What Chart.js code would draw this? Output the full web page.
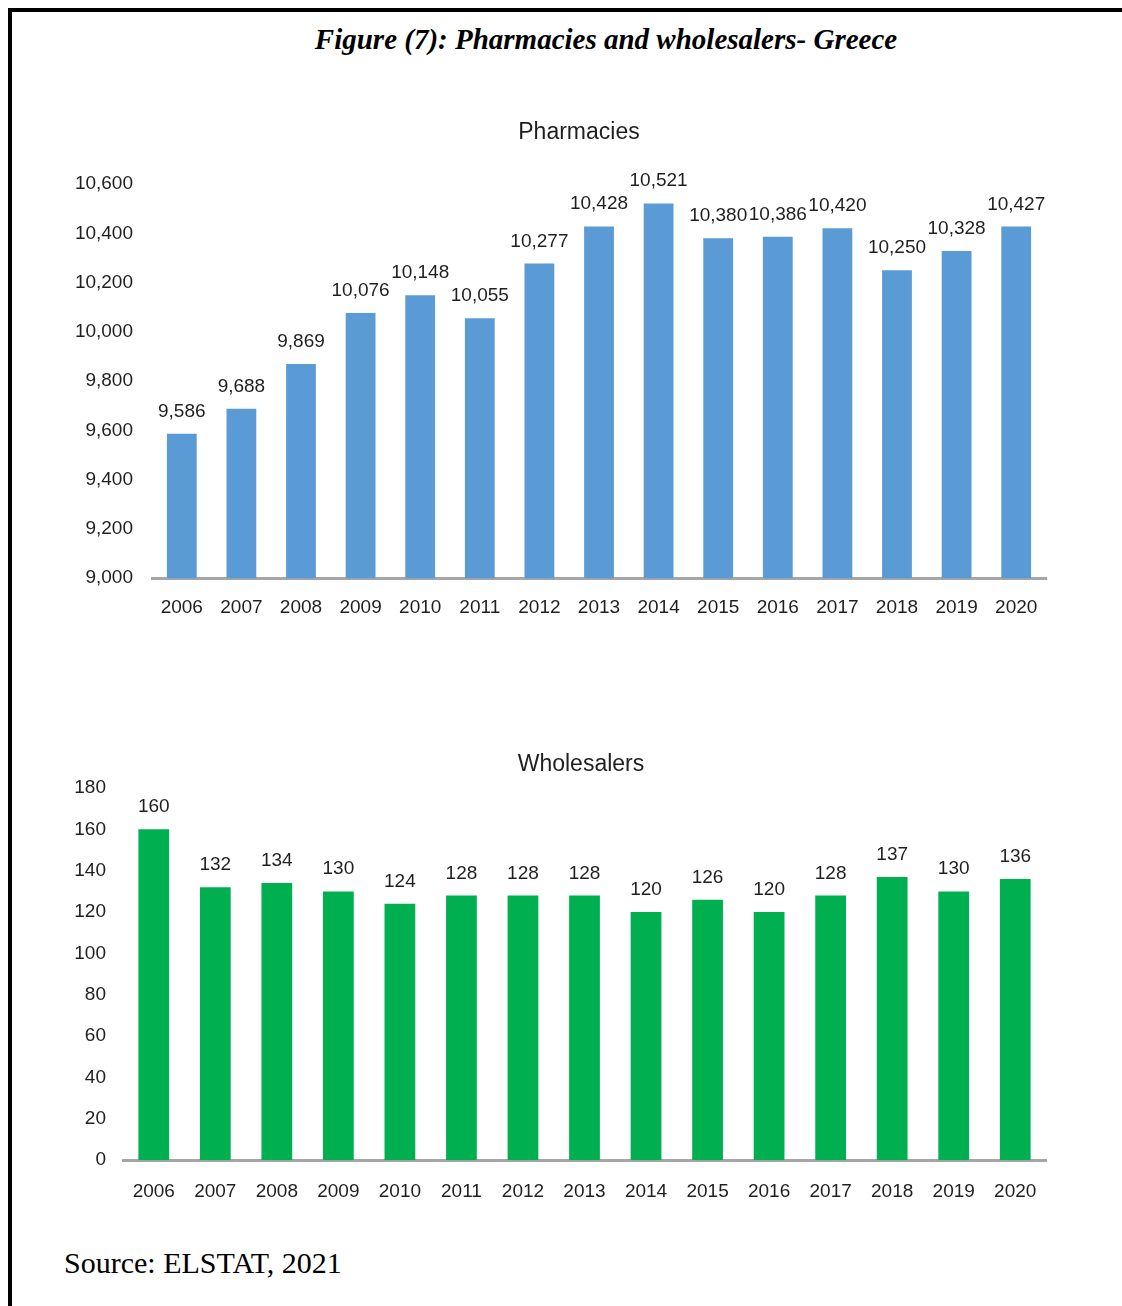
<!DOCTYPE html>
<html>
<head>
<meta charset="utf-8">
<script src="https://cdn.jsdelivr.net/npm/chart.js@4.4.1/dist/chart.umd.min.js"></script>
<style>
  html, body { margin: 0; padding: 0; background: #fff; }
  body { width: 1122px; height: 1306px; position: relative; overflow: hidden; }
  .frame-top { position: absolute; left: 8px; top: 8px; width: 1114px; height: 4px; background: #000; }
  .frame-left { position: absolute; left: 8px; top: 8px; width: 4px; height: 1298px; background: #000; }
  .fig-title { position: absolute; left: 0; top: 23px; width: 1212px; text-align: center;
    font-family: "Liberation Serif", "Times New Roman", serif; font-weight: bold; font-style: italic; font-size: 29px; color: #000; }
  .source { position: absolute; left: 64px; top: 1246px;
    font-family: "Liberation Serif", "Times New Roman", serif; font-size: 30px; color: #000; }
  .chart-title { position: absolute; width: 400px; text-align: center; line-height: 26px;
    font-family: "Liberation Sans", Arial, Helvetica, sans-serif; font-size: 23px; color: #1f1f1f; }
  #PharmChart { position: absolute; left: 0; top: 110px; }
  #WholeChart { position: absolute; left: 0; top: 740px; }
</style>
</head>
<body>
<div class="frame-top"></div>
<div class="frame-left"></div>
<div class="fig-title">Figure (7): Pharmacies and wholesalers- Greece</div>
<canvas id="PharmChart" width="1122" height="540"></canvas>
<canvas id="WholeChart" width="1122" height="502"></canvas>
<div class="chart-title" style="left:379px; top:118px;">Pharmacies</div>
<div class="chart-title" style="left:381px; top:750px;">Wholesalers</div>
<div class="source">Source: ELSTAT, 2021</div>

<script>
// 연도 (두 차트 공통)
const years = ['2006', '2007', '2008', '2009', '2010', '2011', '2012', '2013', '2014', '2015', '2016', '2017', '2018', '2019', '2020'];
// 약국 수
const pharmacies = [9586, 9688, 9869, 10076, 10148, 10055, 10277, 10428, 10521, 10380, 10386, 10420, 10250, 10328, 10427];
// 도매상 수
const wholesalers = [160, 132, 134, 130, 124, 128, 128, 128, 120, 126, 120, 128, 137, 130, 136];

const FONT = '"Liberation Sans", Arial, Helvetica, sans-serif';
const TEXT = '#1f1f1f';

// 막대 위에 숫자 찍는 플러그인
const valueLabels = {
    id: 'valueLabels',
    afterDatasetsDraw: (chart) => {
        const { ctx } = chart;
        const meta = chart.getDatasetMeta(0);
        const values = chart.data.datasets[0].data;
        ctx.save();
        ctx.font = '19px ' + FONT;
        ctx.fillStyle = TEXT;
        ctx.textAlign = 'center';
        ctx.textBaseline = 'alphabetic';
        meta.data.forEach((bar, i) => {
            ctx.fillText(values[i].toLocaleString('en-US'), bar.x, bar.y - 17);
        });
        ctx.restore();
    }
};

// 제목은 html로 따로 올림 (차트 영역 가운데가 아니라서)
const make_chart = (id, values, color, yMin, yMax, step, areaLeft, yPad, xPad, padTop, padBottom) => {
    const ctx = document.getElementById(id);
    if (!ctx) return;
    new Chart(ctx, {
        type: 'bar',
        data: {
            labels: years,
            datasets: [{
                data: values,
                backgroundColor: color,
                barPercentage: 0.5,
                categoryPercentage: 1.0
            }]
        },
        options: {
            responsive: false,
            animation: false,
            layout: { padding: { left: 0, right: 76, top: padTop, bottom: padBottom } },
            plugins: {
                legend: { display: false },
                tooltip: { enabled: false },
                title: { display: false }
            },
            scales: {
                x: {
                    grid: { display: false, drawTicks: false },
                    border: { display: true, color: '#a6a6a6', width: 3 },
                    ticks: { color: TEXT, font: { family: FONT, size: 19 }, padding: xPad, maxRotation: 0 }
                },
                y: {
                    min: yMin,
                    max: yMax,
                    grid: { display: false, drawTicks: false },
                    border: { display: false },
                    ticks: {
                        stepSize: step,
                        color: TEXT,
                        font: { family: FONT, size: 19 },
                        padding: yPad,
                        callback: (v) => v.toLocaleString('en-US')
                    },
                    afterFit: (scale) => { scale.width = areaLeft; }
                }
            }
        },
        plugins: [valueLabels]
    });
};

document.addEventListener('DOMContentLoaded', () => {
    make_chart('PharmChart', pharmacies, '#5b9bd5', 9000, 10600, 200, 152, 19, 18, 74, 13);
    make_chart('WholeChart', wholesalers, '#00b050', 0, 180, 20, 123, 17, 20, 48, 19);
});
</script>
</body>
</html>
